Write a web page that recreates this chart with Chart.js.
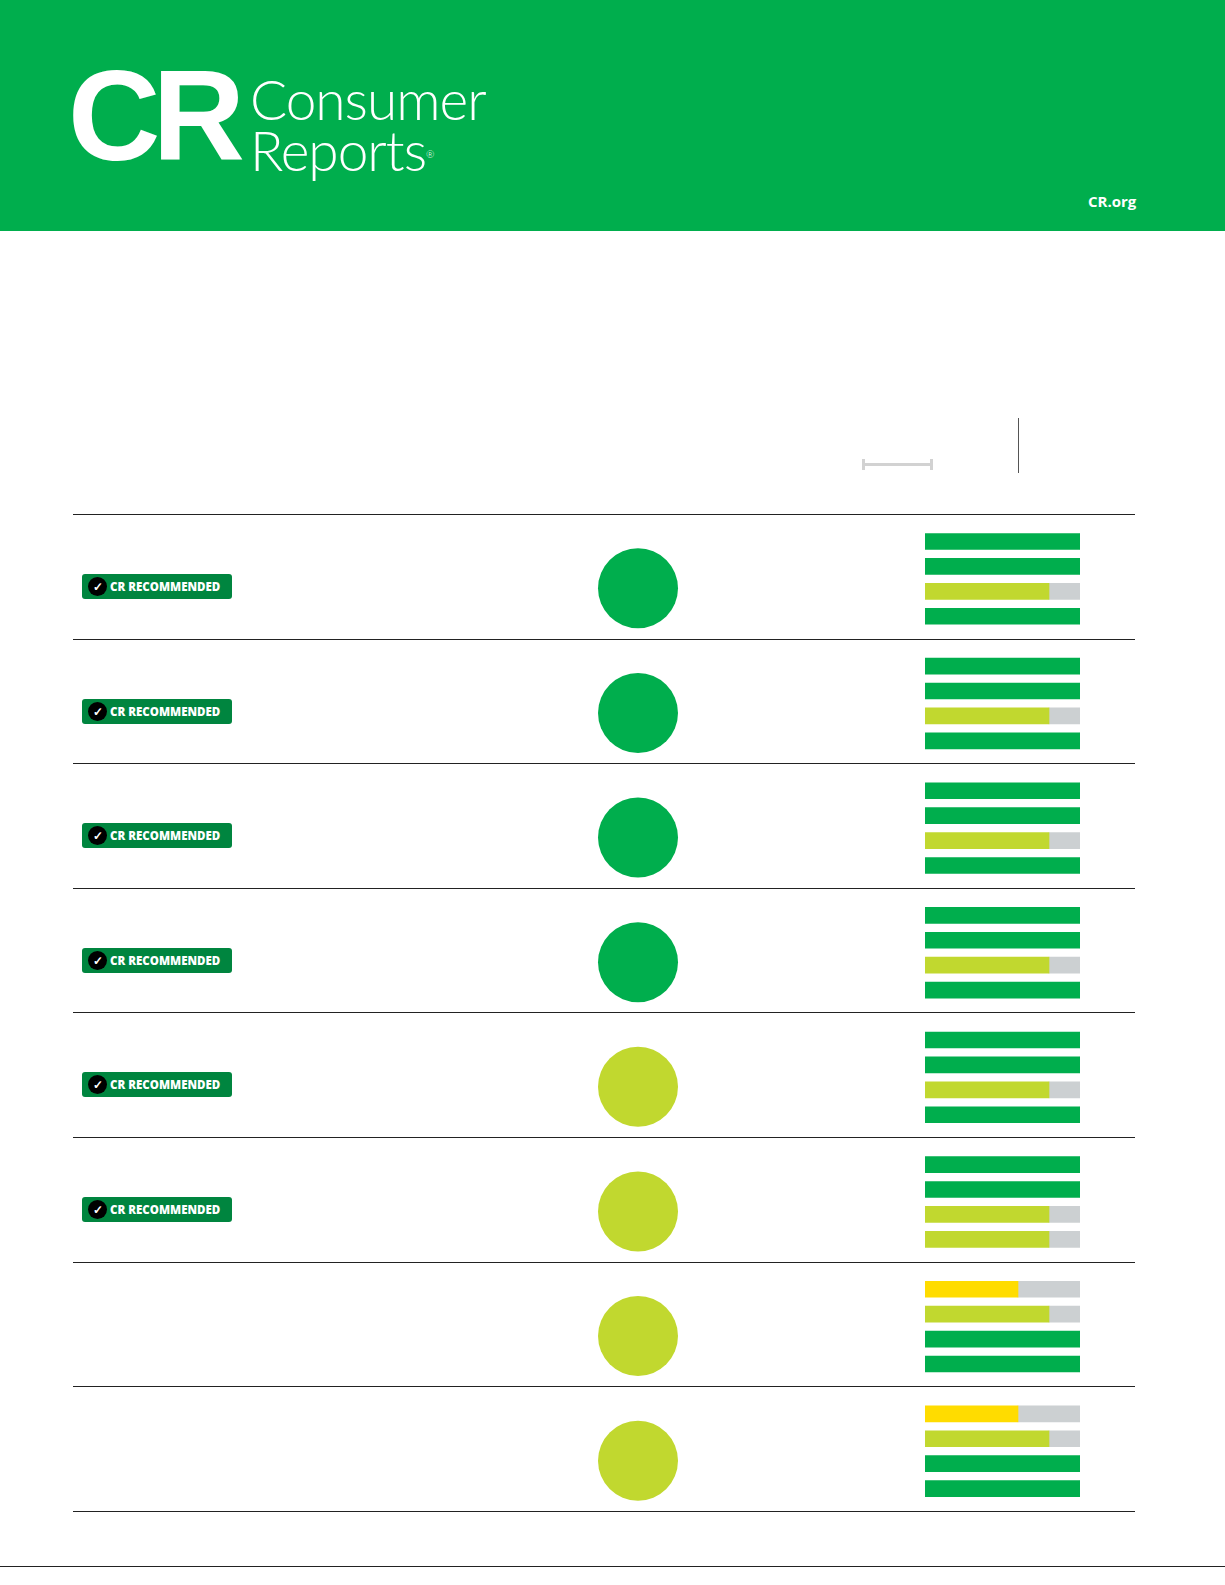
<!DOCTYPE html>
<html>
<head>
<meta charset="utf-8">
<script src="https://cdn.jsdelivr.net/npm/chart.js@4"></script>
<style>
  html, body { margin: 0; padding: 0; overflow: hidden; }
  body { width: 1225px; height: 1585px; position: relative; background: #fff; font-family: "Open Sans", sans-serif; }
  #header { position: absolute; left: 0; top: 0; width: 1225px; height: 231px; background: #00ae4d; }
  #logoCR { position: absolute; left: 68px; top: 52px; color: #fff; font-family: "Liberation Sans", sans-serif; font-weight: 900; font-size: 128px; letter-spacing: -8px; line-height: 1; }
  .logoTxt { position: absolute; left: 250px; color: #fff; font-family: Lato, sans-serif; font-weight: 300; font-size: 55px; line-height: 46px; letter-spacing: -1px; }
  .logoTxt sup { font-size: 10px; vertical-align: top; position: relative; top: 4px; }
  #crorg { position: absolute; left: 1088px; top: 191px; color: #fff; font-weight: 700; font-size: 15px; }
  .rule { position: absolute; left: 73px; width: 1062px; height: 0; border-top: 1.5px solid #222; }
  .badge { position: absolute; left: 82px; width: 150px; height: 25px; background: #00853f; border-radius: 3px; color: #fff; font-size: 11.5px; font-weight: 800; line-height: 25px; }
  .badge .chk { position: absolute; left: 6px; top: 3px; width: 19px; height: 19px; border-radius: 50%; background: #000; color: #fff; font-size: 12px; line-height: 19px; text-align: center; }
  .badge span.t { position: absolute; left: 28px; }
  #bars { position: absolute; left: 925px; top: 529px; }
  #dots { position: absolute; left: 538px; top: 526px; }
</style>
</head>
<body>
<div id="header">
  <div id="logoCR">CR</div>
  <div class="logoTxt" style="top:76px">Consumer</div>
  <div class="logoTxt" style="top:127px">Reports<sup>®</sup></div>
  <div id="crorg">CR.org</div>
</div>
<div style="position:absolute;left:862px;top:463px;width:71px;border-top:3px solid #d2d2d2"></div>
<div style="position:absolute;left:862px;top:459px;height:11px;border-left:3px solid #d2d2d2"></div>
<div style="position:absolute;left:930px;top:459px;height:11px;border-left:3px solid #d2d2d2"></div>
<div style="position:absolute;left:1018px;top:418px;height:55px;border-left:1.5px solid #555"></div>
<div style="position:absolute;left:0;top:1566px;width:1225px;border-top:1.5px solid #222"></div>
<div id="rows"></div>
<canvas id="bars" width="155" height="997"></canvas>
<canvas id="dots" width="200" height="997"></canvas>
<script>
// une ligne par produit
const recommended = [true, true, true, true, true, true, false, false];
const overallScore = [5, 5, 5, 5, 4, 4, 4, 4];
// 4 critères par produit (échelle 1-5)
const ratingA = [5, 5, 5, 5, 5, 5, 3, 3];
const ratingB = [5, 5, 5, 5, 5, 5, 4, 4];
const ratingC = [4, 4, 4, 4, 4, 4, 5, 5];
const ratingD = [5, 5, 5, 5, 5, 4, 5, 5];

const scoreColors = { 3: '#ffdc00', 4: '#c1d82f', 5: '#00ae4d' };
const restColor = '#ccd0d2';

// lignes et badges
const rowTop = 514, rowH = 124.6;
const rowsDiv = document.getElementById('rows');
for (let i = 0; i <= recommended.length; i++) {
  const r = document.createElement('div');
  r.className = 'rule';
  r.style.top = (rowTop + i * rowH) + 'px';
  rowsDiv.appendChild(r);
}
recommended.forEach((rec, i) => {
  if (!rec) return;
  const b = document.createElement('div');
  b.className = 'badge';
  b.style.top = (rowTop + i * rowH + 60) + 'px';
  b.innerHTML = '<div class="chk">✓</div><span class="t">CR RECOMMENDED</span>';
  rowsDiv.appendChild(b);
});

// barres : 5 emplacements par ligne (4 barres + un vide)
const labels = [], values = [];
recommended.forEach((_, i) => {
  [ratingA[i], ratingB[i], ratingC[i], ratingD[i], null].forEach((v, k) => {
    labels.push('r' + i + 'b' + k);
    values.push(v);
  });
});

new Chart(document.getElementById('bars'), {
  type: 'bar',
  data: {
    labels: labels,
    datasets: [{
      data: values,
      backgroundColor: values.map(v => scoreColors[v] || restColor),
      barThickness: 16,
    }, {
      data: values.map(v => v === null ? null : 5 - v),
      backgroundColor: restColor,
      barThickness: 16,
    }],
  },
  options: {
    indexAxis: 'y',
    responsive: false,
    animation: false,
    layout: { padding: 0 },
    plugins: { legend: { display: false }, tooltip: { enabled: false } },
    scales: {
      x: { stacked: true, min: 0, max: 5, display: false },
      y: { stacked: true, display: false },
    },
  },
});

// cercles de note globale
new Chart(document.getElementById('dots'), {
  type: 'bubble',
  data: {
    labels: overallScore.map((_, i) => 'p' + i),
    datasets: [{
      data: overallScore.map((s, i) => ({ x: 0, y: 'p' + i, r: 40 })),
      backgroundColor: overallScore.map(s => scoreColors[s]),
      borderWidth: 0,
      clip: false,
    }],
  },
  options: {
    responsive: false,
    animation: false,
    layout: { padding: 0, autoPadding: false },
    plugins: { legend: { display: false }, tooltip: { enabled: false } },
    scales: {
      x: { min: -1, max: 1, display: false },
      y: { type: 'category', offset: true, display: false },
    },
  },
});
</script>
</body>
</html>
